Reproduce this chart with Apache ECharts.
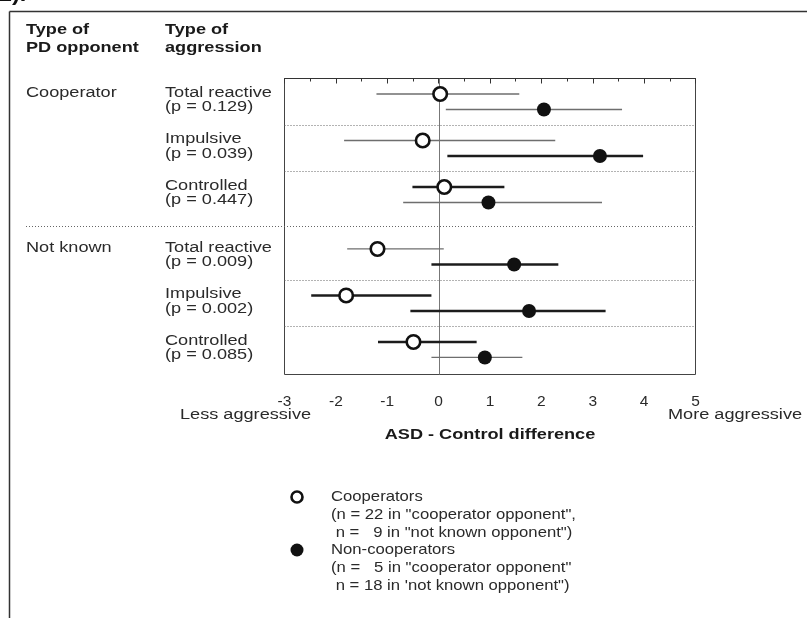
<!DOCTYPE html>
<html lang="en">
<head>
<meta charset="UTF-8">
<title>ASD - Control difference</title>
<script src="https://cdn.jsdelivr.net/npm/echarts@6/dist/echarts.min.js"></script>
</head>
<body style="margin:0">
<div id="main" style="width:807px;height:618px;"></div>
<script>
const opponents = ['Cooperator', 'Not known'];
const aggression = ['Total reactive', 'Impulsive', 'Controlled', 'Total reactive', 'Impulsive', 'Controlled'];
const pValues = ['0.129', '0.039', '0.447', '0.009', '0.002', '0.085'];

// cooperators (open circles)
const coopMean = [0.03, -0.31, 0.11, -1.19, -1.80, -0.49];
const coopLow = [-1.21, -1.84, -0.51, -1.78, -2.48, -1.18];
const coopHigh = [1.57, 2.27, 1.28, 0.10, -0.14, 0.74];
const coopBold = [0, 0, 1, 0, 1, 1];

// non-cooperators (filled circles)
const nonMean = [2.05, 3.14, 0.97, 1.47, 1.76, 0.90];
const nonLow = [0.14, 0.17, -0.69, -0.14, -0.55, -0.14];
const nonHigh = [3.57, 3.98, 3.18, 2.33, 3.25, 1.63];
const nonBold = [0, 1, 0, 1, 1, 0];

const legendNames = ['Cooperators', 'Non-cooperators'];
const legendNotes = [
    ['(n = 22 in "cooperator opponent",', ' n =   9 in "not known opponent")'],
    ['(n =   5 in "cooperator opponent"', ' n = 18 in \'not known opponent")']
];

const font = 'Liberation Sans, Arial, sans-serif';
const sx = 1.17; // the original figure is a bit stretched sideways
const txt = '#2a2a2a';

const chart = echarts.init(document.getElementById('main'));

// y slot: 2 opponent groups, 3 aggression blocks each, 2 rows per block
const rowPos = (k, s) => Math.floor(k / 3) * 10 + (k % 3) * 3 + 1 + s;
const separators = [3, 6, 9.5, 13, 16];

const bars = [];
const coopPts = [];
const nonPts = [];
coopMean.forEach((m, k) => {
    bars.push([coopLow[k], coopHigh[k], rowPos(k, 0), coopBold[k]]);
    bars.push([nonLow[k], nonHigh[k], rowPos(k, 1), nonBold[k]]);
    coopPts.push([m, rowPos(k, 0)]);
    nonPts.push([nonMean[k], rowPos(k, 1)]);
});

const option = {
    backgroundColor: '#fff',
    animation: false,
    grid: {left: 284.5, right: 111.5, top: 78.5, bottom: 243.5, show: true, borderColor: '#444', borderWidth: 1},
    xAxis: {
        type: 'value', min: -3, max: 5, interval: 1,
        axisLine: {lineStyle: {color: '#333', width: 1}},
        axisTick: {length: 5, lineStyle: {color: '#333'}},
        minorTick: {show: true, splitNumber: 2, length: 3, lineStyle: {color: '#333'}},
        splitLine: {show: false},
        axisLabel: {color: txt, fontSize: 15.5, fontFamily: font, margin: 19}
    },
    yAxis: {type: 'value', min: 0, max: 19.1, inverse: true, show: false},
    series: [{
        // zero line and dotted separators
        type: 'custom',
        silent: true,
        z: 1,
        data: separators.map(v => [v]),
        renderItem: (params, api) => {
            const y = api.coord([0, api.value(0)])[1];
            const left = api.value(0) === 9.5 ? 26 : api.coord([-3, 0])[0];
            const right = api.coord([5, 0])[0];
            const els = [{
                type: 'line',
                shape: {x1: left, y1: Math.round(y) + 0.5, x2: right, y2: Math.round(y) + 0.5},
                style: {stroke: '#666', lineWidth: 1, lineDash: [1, 2]}
            }];
            if (params.dataIndex === 0) {
                const z = Math.round(api.coord([0, 0])[0]) + 0.5;
                els.push({
                    type: 'line',
                    shape: {x1: z, y1: api.coord([0, 0])[1], x2: z, y2: api.coord([0, 19.1])[1]},
                    style: {stroke: '#777', lineWidth: 1}
                });
            }
            return {type: 'group', children: els};
        },
        clip: false
    }, {
        type: 'custom',
        name: 'ci',
        z: 2,
        data: bars,
        encode: {x: [0, 1], y: 2},
        renderItem: (params, api) => {
            const a = api.coord([api.value(0), api.value(2)]);
            const b = api.coord([api.value(1), api.value(2)]);
            const bold = api.value(3) === 1;
            return {
                type: 'line',
                shape: {x1: a[0], y1: a[1], x2: b[0], y2: b[1]},
                style: {stroke: bold ? '#1c1c1c' : '#6e6e6e', lineWidth: bold ? 2.6 : 1.3}
            };
        }
    }, {
        type: 'scatter',
        name: legendNames[0],
        z: 3,
        symbol: 'circle',
        symbolSize: 13.5,
        itemStyle: {color: '#fff', borderColor: '#111', borderWidth: 2.6, opacity: 1},
        data: coopPts
    }, {
        type: 'scatter',
        name: legendNames[1],
        z: 3,
        symbol: 'circle',
        symbolSize: 14,
        itemStyle: {color: '#111', opacity: 1},
        data: nonPts
    }]
};
chart.setOption(option);

const text = (t, x, y, opts) => Object.assign({
    type: 'text', x: x, y: y, scaleX: sx, silent: true,
    style: Object.assign({
        text: t, fill: txt, fontSize: 15.5, fontFamily: font,
        align: 'left', verticalAlign: 'middle'
    }, (opts && opts.style) || {})
}, opts && opts.el ? opts.el : {});

const bold = {style: {fontWeight: 'bold', fill: '#1a1a1a'}};
const py = (v) => chart.convertToPixel({yAxisIndex: 0}, v);

const g = [
    {type: 'line', silent: true, shape: {x1: 9.5, y1: 11.5, x2: 807, y2: 11.5}, style: {stroke: '#333', lineWidth: 1.5}},
    {type: 'line', silent: true, shape: {x1: 9.5, y1: 11.5, x2: 9.5, y2: 618}, style: {stroke: '#333', lineWidth: 1.5}},
    text('2).', -1, 5, {style: {fontWeight: 'bold', fontSize: 20, fill: '#111', verticalAlign: 'bottom'}}),
    text('Type of', 26, 30, bold),
    text('PD opponent', 26, 48, bold),
    text('Type of', 165, 30, bold),
    text('aggression', 165, 48, bold)
];
opponents.forEach((o, i) => g.push(text(o, 26, py(rowPos(i * 3, 0)) - 1)));
aggression.forEach((a, k) => {
    g.push(text(a, 165, py(rowPos(k, 0)) - 1.5));
    g.push(text('(p = ' + pValues[k] + ')', 165, py(rowPos(k, 1)) - 2.5));
});
g.push(text('Less aggressive', 180, 415));
g.push(text('More aggressive', 668, 415));
g.push(text('ASD - Control difference', 490, 435, {style: {fontWeight: 'bold', fill: '#1a1a1a', align: 'center'}}));

// legend
const legY = [497, 550];
const lsx = 1.15;
g.push({type: 'circle', silent: true, shape: {cx: 297, cy: legY[0], r: 5.5}, style: {fill: '#fff', stroke: '#111', lineWidth: 2.6}});
g.push({type: 'circle', silent: true, shape: {cx: 297, cy: legY[1], r: 6.5}, style: {fill: '#111'}});
legendNames.forEach((n, i) => {
    const el = text(n, 331, legY[i], {style: {fontSize: 14.5}});
    el.scaleX = lsx;
    g.push(el);
    legendNotes[i].forEach((l, j) => {
        const e = text(l, 331, legY[i] + 17.8 * (j + 1), {style: {fontSize: 14.5}});
        e.scaleX = lsx;
        g.push(e);
    });
});

chart.setOption({graphic: {elements: g}});
</script>
</body>
</html>
